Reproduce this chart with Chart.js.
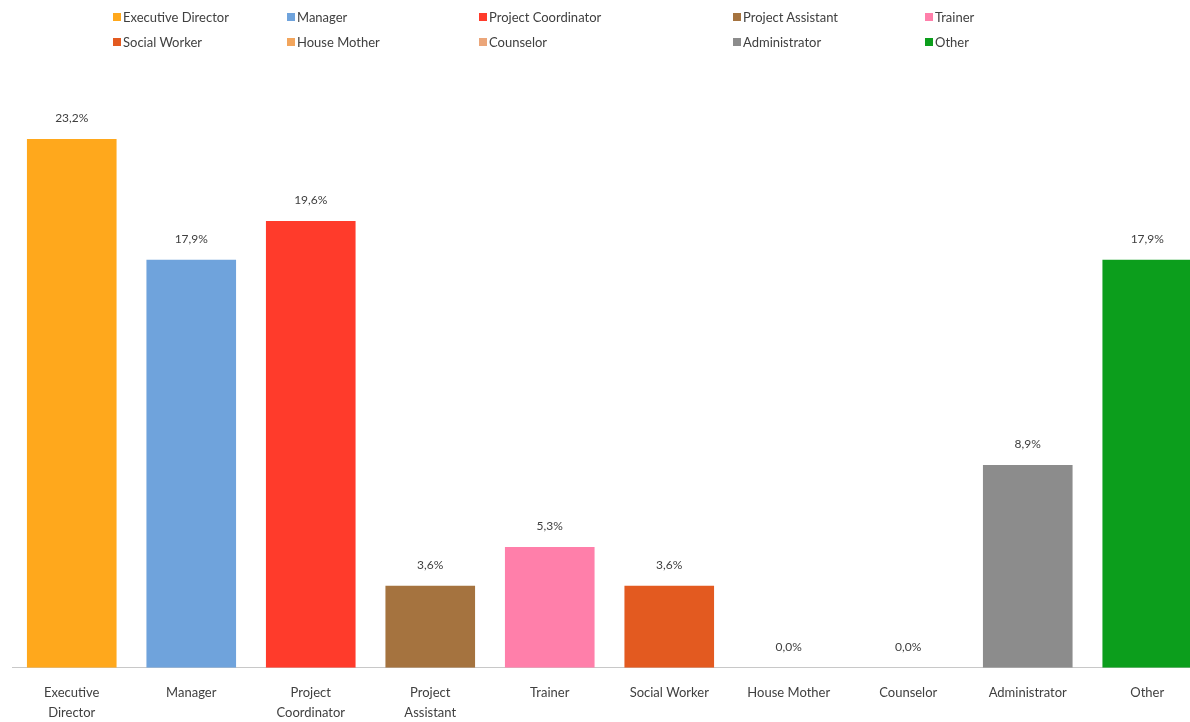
<!DOCTYPE html>
<html>
<head>
<meta charset="utf-8">
<script src="https://cdn.jsdelivr.net/npm/chart.js@4"></script>
<style>
  html, body { margin: 0; padding: 0; background: #fff; overflow: hidden; }
  #wrap { position: relative; width: 1210px; height: 722px; }
  #legend { position: absolute; left: 0; top: 0; width: 1190px; height: 60px;
    font-family: Lato, "Liberation Sans", sans-serif; font-size: 13px; color: #404040; }
  .item { position: absolute; display: flex; align-items: center; white-space: nowrap; }
  .box { width: 8px; height: 8px; margin-right: 2px; }
</style>
</head>
<body>
<div id="wrap">
  <div id="legend"></div>
  <canvas id="chart" width="1210" height="722"></canvas>
</div>
<script>
const categories = ["Executive Director", "Manager", "Project Coordinator", "Project Assistant", "Trainer",
  "Social Worker", "House Mother", "Counselor", "Administrator", "Other"];
const tickLabels = [["Executive", "Director"], "Manager", ["Project", "Coordinator"], ["Project", "Assistant"], "Trainer",
  "Social Worker", "House Mother", "Counselor", "Administrator", "Other"];
const shares = [23.2, 17.9, 19.6, 3.6, 5.3, 3.6, 0.0, 0.0, 8.9, 17.9];
const barColors = ["#FFA81C", "#6FA3DC", "#FF3B2B", "#A5733F", "#FF7FAA",
  "#E35A20", "#F2A55C", "#EBA67A", "#8C8C8C", "#0C9E1C"];

// legend: two rows, five columns
const legendCols = [113, 287, 479, 733, 925];
const legendRows = [17, 42];
const legend = document.getElementById("legend");
categories.forEach((name, i) => {
  const el = document.createElement("div");
  el.className = "item";
  el.style.left = legendCols[i % 5] + "px";
  el.style.top = (legendRows[Math.floor(i / 5)] - 9) + "px";
  el.style.height = "18px";
  el.innerHTML = `<span class="box" style="background:${barColors[i]}"></span><span>${name}</span>`;
  legend.appendChild(el);
});

// value labels above the bars, decimal comma
const valueLabels = {
  id: "valueLabels",
  afterDatasetsDraw(chart) {
    const ctx = chart.ctx;
    const meta = chart.getDatasetMeta(0);
    ctx.save();
    ctx.font = "12px Lato, 'Liberation Sans', sans-serif";
    ctx.fillStyle = "#404040";
    ctx.textAlign = "center";
    ctx.textBaseline = "middle";
    meta.data.forEach((bar, i) => {
      const txt = shares[i].toFixed(1).replace(".", ",") + "%";
      ctx.fillText(txt, bar.x, bar.y - 21);
    });
    ctx.restore();
  },
};

new Chart(document.getElementById("chart"), {
  type: "bar",
  data: {
    labels: tickLabels,
    datasets: [{
      data: shares,
      backgroundColor: barColors,
      barPercentage: 0.75,
      categoryPercentage: 1,
    }],
  },
  options: {
    responsive: false,
    animation: false,
    layout: { padding: { top: 98, left: 12, right: 3, bottom: -8 } },
    plugins: { legend: { display: false }, tooltip: { enabled: false } },
    scales: {
      x: {
        grid: { display: false },
        border: { display: true, color: "#c8c8c8", width: 1 },
        ticks: {
          autoSkip: false, maxRotation: 0, padding: 7, color: "#404040",
          font: { family: "Lato, 'Liberation Sans', sans-serif", size: 13, lineHeight: 1.55 },
        },
      },
      y: { display: false, min: 0, max: 25 },
    },
  },
  plugins: [valueLabels],
});
</script>
</body>
</html>
